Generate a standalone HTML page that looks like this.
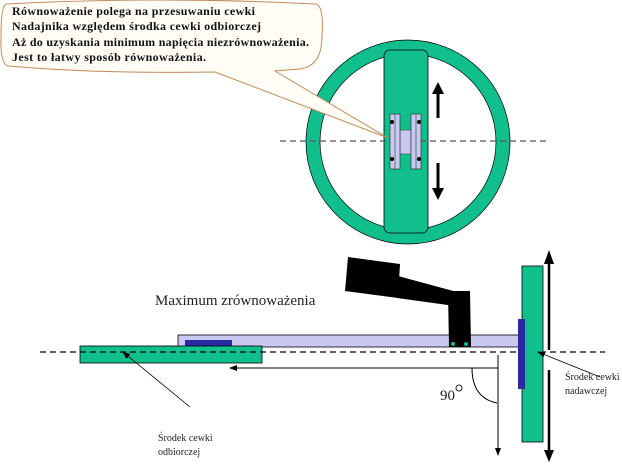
<!DOCTYPE html>
<html><head><meta charset="utf-8"><style>
html,body{margin:0;padding:0;background:#fff;}
svg{display:block;}
</style></head><body>
<svg width="622" height="467" viewBox="0 0 622 467" xmlns="http://www.w3.org/2000/svg">
<defs>
<marker id="ah" markerWidth="8" markerHeight="8" refX="7" refY="4" orient="auto" markerUnits="userSpaceOnUse"><path d="M0,1 L8,4 L0,7 z" fill="#000"/></marker>
</defs>
<!-- circle top view -->
<circle cx="408" cy="142" r="95" fill="none" stroke="#10bf8c" stroke-width="14"/>
<circle cx="408" cy="142" r="102" fill="none" stroke="#000" stroke-width="0.7"/>
<circle cx="408" cy="142" r="88" fill="none" stroke="#000" stroke-width="0.7"/>
<rect x="384" y="50" width="44" height="183" rx="6" fill="#10bf8c" stroke="#000" stroke-width="0.8"/>
<line x1="280" y1="141" x2="550" y2="141" stroke="#555" stroke-width="1.2" stroke-dasharray="6,4"/>
<rect x="400" y="130" width="11" height="24" fill="#c8c8f0" stroke="#333" stroke-width="0.5"/>
<rect x="390" y="114" width="10" height="55" fill="#c8c8f0" stroke="#333" stroke-width="0.7"/>
<rect x="411" y="114" width="10" height="55" fill="#c8c8f0" stroke="#333" stroke-width="0.7"/>
<line x1="395" y1="114" x2="395" y2="169" stroke="#333" stroke-width="0.6"/>
<line x1="416" y1="114" x2="416" y2="169" stroke="#333" stroke-width="0.6"/>
<circle cx="392" cy="122" r="2" fill="#000"/><circle cx="419" cy="122" r="2" fill="#000"/>
<circle cx="392" cy="159" r="2" fill="#000"/><circle cx="419" cy="159" r="2" fill="#000"/>
<line x1="438" y1="118" x2="438" y2="92" stroke="#000" stroke-width="3"/>
<path d="M432,94 L438,82 L444,94 z" fill="#000"/>
<line x1="438" y1="163" x2="438" y2="190" stroke="#000" stroke-width="3"/>
<path d="M432,188 L438,200 L444,188 z" fill="#000"/>
<!-- callout -->
<path d="M6,4 Q160,-4 316,4 Q324,6 322,36 Q322,66 300,69 L275,71 L388,138 L215,72 Q100,74 8,66 Q0,64 1,36 Q1,6 6,4 z" fill="#fffdf5" stroke="#c08a5a" stroke-width="1"/>
<g font-family="Liberation Serif, serif" font-weight="bold" font-size="12" fill="#111">
<text x="12" y="15" textLength="243">Równoważenie polega na przesuwaniu cewki</text>
<text x="12" y="30" textLength="249">Nadajnika względem środka cewki odbiorczej</text>
<text x="12" y="46" textLength="297">Aż do uzyskania minimum napięcia niezrównoważenia.</text>
<text x="12" y="61" textLength="194">Jest to łatwy sposób równoważenia.</text>
</g>
<!-- side view -->
<rect x="178" y="335" width="342" height="12" fill="#c8c8f0" stroke="#000" stroke-width="0.8"/>
<rect x="185" y="340" width="47" height="6" fill="#2a2aa0"/>
<rect x="80" y="346" width="182" height="17" fill="#10bf8c" stroke="#000" stroke-width="0.8"/>
<path d="M348,257 L400,264 L398,298 L345,291 z" fill="#000"/>
<path d="M398,276 L457,292 L455,306 L397,298 z" fill="#000"/>
<path d="M448,291 L470,291 L471,347 L449,347 z" fill="#000"/>
<circle cx="453" cy="344" r="2" fill="#10bf8c"/><circle cx="466" cy="344" r="2" fill="#10bf8c"/>
<line x1="40" y1="352" x2="605" y2="352" stroke="#000" stroke-width="1.3" stroke-dasharray="6,4"/>
<rect x="522" y="266" width="21" height="176" fill="#10bf8c" stroke="#000" stroke-width="0.8"/>
<rect x="518" y="319" width="7" height="70" fill="#2a2aa0"/>
<line x1="549" y1="350" x2="549" y2="262" stroke="#000" stroke-width="2.5"/>
<path d="M544,264 L549,250 L554,264 z" fill="#000"/>
<line x1="549" y1="370" x2="549" y2="452" stroke="#000" stroke-width="2.5"/>
<path d="M544,450 L549,462 L554,450 z" fill="#000"/>
<line x1="498" y1="368" x2="230" y2="368" stroke="#000" stroke-width="1" marker-end="url(#ah)"/>
<line x1="498" y1="355" x2="498" y2="455" stroke="#000" stroke-width="1" marker-end="url(#ah)"/>
<path d="M472,368 Q472,398 497,403" fill="none" stroke="#000" stroke-width="1"/>
<text x="440" y="400" font-family="Liberation Serif, serif" font-size="15" fill="#222">90</text>
<circle cx="459" cy="388" r="3" fill="none" stroke="#222" stroke-width="1"/>
<text x="155" y="305" font-family="Liberation Serif, serif" font-size="15" fill="#222">Maximum zrównoważenia</text>
<line x1="190" y1="407" x2="123" y2="352" stroke="#000" stroke-width="0.8" marker-end="url(#ah)"/>
<line x1="600" y1="377" x2="538" y2="352" stroke="#000" stroke-width="0.8" marker-end="url(#ah)"/>
<g font-family="Liberation Serif, serif" font-size="10" fill="#222">
<text x="158" y="441">Środek cewki</text>
<text x="158" y="455">odbiorczej</text>
<text x="565" y="380">Środek cewki</text>
<text x="565" y="394">nadawczej</text>
</g>
</svg>
</body></html>
